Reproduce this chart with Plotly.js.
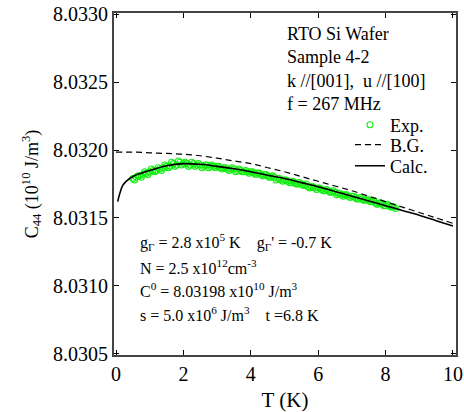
<!DOCTYPE html>
<html><head><meta charset="utf-8">
<script src="https://cdn.plot.ly/plotly-3.0.1.min.js"></script>
<style>html,body{margin:0;padding:0;background:#fff}#chart{width:464px;height:412px}</style>
</head><body><div id="chart"></div>
<script>
// Experimental points (two interleaved runs)
const expT = [0.5,0.6,0.7,0.8,0.9,1.0,1.1,1.2,1.3,1.4,1.5,1.6,1.7,1.8,1.9,2.0,2.1,2.2,2.3,2.4,2.5,2.6,2.7,2.8,2.9,3.0,3.1,3.2,3.3,3.4,3.5,3.6,3.7,3.8,3.9,4.0,4.1,4.2,4.3,4.4,4.5,4.6,4.7,4.8,4.9,5.0,5.1,5.2,5.3,5.4,5.5,5.6,5.7,5.8,5.9,6.0,6.1,6.2,6.3,6.4,6.5,6.6,6.7,6.8,6.9,7.0,7.1,7.2,7.3,7.4,7.5,7.6,7.7,7.8,7.9,8.0,8.1,8.2,8.3];
const expC = [8.03179,8.03180,8.03181,8.03182,8.03183,8.03184,8.03185,8.03185,8.03186,8.03187,8.03188,8.03188,8.03190,8.03189,8.03191,8.03190,8.03190,8.03189,8.03190,8.03189,8.03189,8.03188,8.03189,8.03188,8.03188,8.03188,8.03187,8.03187,8.03186,8.03186,8.03186,8.03185,8.03185,8.03184,8.03184,8.03184,8.03183,8.03183,8.03182,8.03182,8.03181,8.03180,8.03180,8.03179,8.03178,8.03178,8.03177,8.03176,8.03176,8.03175,8.03175,8.03174,8.03173,8.03173,8.03172,8.03172,8.03171,8.03170,8.03170,8.03169,8.03169,8.03168,8.03167,8.03167,8.03166,8.03166,8.03165,8.03164,8.03164,8.03163,8.03163,8.03162,8.03161,8.03161,8.03160,8.03159,8.03159,8.03158,8.03157];
const expT2 = [0.55,0.65,0.75,0.85,0.95,1.05,1.15,1.25,1.35,1.45,1.55,1.65,1.75,1.85,1.95,2.05,2.15,2.25,2.35,2.45,2.55,2.65,2.75,2.85,2.95,3.05,3.15,3.25,3.35,3.45,3.55,3.65,3.75,3.85,3.95,4.05,4.15,4.25,4.35,4.45,4.55,4.65,4.75,4.85,4.95,5.05,5.15,5.25,5.35,5.45,5.55,5.65,5.75,5.85,5.95,6.05,6.15,6.25,6.35,6.45,6.55,6.65,6.75,6.85,6.95,7.05,7.15,7.25,7.35,7.45,7.55,7.65,7.75,7.85,7.95,8.05,8.15,8.25];
const expC2 = [8.03178,8.03181,8.03180,8.03184,8.03182,8.03186,8.03184,8.03187,8.03185,8.03189,
               8.03187,8.03191,8.03188,8.03192,8.03189,8.03191,8.03188,8.03191,8.03188,8.03190,
               8.03187,8.03189,8.03187,8.03189,8.03187,8.03188,8.03186,8.03187,8.03185,8.03187,
               8.03184,8.03186,8.03184,8.03185,8.03183,8.03184,8.03182,8.03183,8.03181,8.03182,
               8.03180,8.03181,8.03178,8.03179,8.03177,8.03178,8.03176,8.03177,8.03175,8.03176,
               8.03174,8.03175,8.03172,8.03173,8.03171,8.03172,8.03170,8.03171,8.03169,8.03170,
               8.03167,8.03168,8.03166,8.03167,8.03165,8.03166,8.03164,8.03165,8.03163,8.03164,
               8.03162,8.03163,8.03160,8.03161,8.03159,8.03160,8.03158,8.03158];
// Background (B.G.)
const bgT = [0,0.5,1,1.5,2,2.5,3,3.5,4,4.5,5,5.5,6,6.5,7,7.5,8,8.5,9,9.5,10];
const bgC = [8.031985,8.031985,8.03198,8.031975,8.03197,8.031958,8.03194,8.03192,8.0319,8.03187,8.03184,8.031805,8.03177,8.031735,8.0317,8.03166,8.03162,8.03158,8.03154,8.0315,8.03146];
// Calculated curve
const calcT = [0.05,0.1,0.15,0.2,0.3,0.5,0.75,1.0,1.5,2.0,2.5,3.0,3.5,4,4.5,5,5.5,6,6.5,7,7.5,8,8.5,9,9.5,10];
const calcC = [8.03162,8.03167,8.03171,8.03174,8.03177,8.031805,8.03183,8.03185,8.031885,8.03190,8.031895,8.03188,8.031862,8.03184,8.031815,8.03179,8.03176,8.03173,8.031695,8.03166,8.031625,8.03159,8.031555,8.03152,8.03148,8.03144];
const xTicks = [0,2,4,6,8,10];
const yTicks = [8.0305,8.0310,8.0315,8.0320,8.0325,8.0330];

const serif = '"Liberation Serif"';
const traces = [
  {x: expT.concat(expT2), y: expC.concat(expC2), mode: 'markers', name: 'Exp.', type: 'scatter', legend: 'legend',
   marker: {symbol: 'circle-open', size: 6, color: '#11ee11', line: {width: 1.1}}},
  {x: bgT, y: bgC, mode: 'lines', name: 'B.G.', type: 'scatter', legend: 'legend2',
   line: {color: '#000', width: 1.2, dash: '6px,4px', shape: 'spline'}},
  {x: calcT, y: calcC, mode: 'lines', name: 'Calc.', type: 'scatter', legend: 'legend3',
   line: {color: '#000', width: 1.6, shape: 'spline'}}
];
const legBase = {xanchor: 'left', yanchor: 'middle', bgcolor: 'rgba(0,0,0,0)',
                 font: {family: serif, size: 18}, itemwidth: 30, borderwidth: 0};
const legX = 0.69;
const layout = {
  width: 464, height: 412,
  margin: {l: 114, r: 8, t: 13, b: 57},
  paper_bgcolor: '#fff', plot_bgcolor: '#fff',
  font: {family: serif, color: '#000', size: 17},
  showlegend: true,
  legend: Object.assign({}, legBase, {x: legX, y: 0.6725}),
  legend2: Object.assign({}, legBase, {x: legX, y: 0.614}),
  legend3: Object.assign({}, legBase, {x: legX, y: 0.5526}),
  xaxis: {range: [-0.06, 10.09], tickvals: xTicks, ticktext: xTicks.map(String),
          ticks: 'inside', ticklen: 5, tickcolor: '#000', showline: true, linecolor: '#444', linewidth: 2,
          mirror: 'ticks', showgrid: false, zeroline: false,
          title: {text: 'T (K)', font: {family: serif, size: 21}, standoff: 8},
          tickfont: {family: serif, size: 20}},
  yaxis: {range: [8.03049, 8.03301], tickvals: yTicks, ticktext: yTicks.map(v => v.toFixed(4)),
          ticks: 'inside', ticklen: 5, tickcolor: '#000', showline: true, linecolor: '#444', linewidth: 2,
          mirror: 'ticks', showgrid: false, zeroline: false,
          title: {text: 'C<sub>44</sub> (10<sup>10</sup> J/m<sup>3</sup>)', font: {family: serif, size: 18}, standoff: 10},
          tickfont: {family: serif, size: 20}},
  annotations: [
    {xref: 'paper', yref: 'paper', x: 0.5, y: 0.973, xanchor: 'left', yanchor: 'top', align: 'left', showarrow: false,
     text: 'RTO Si Wafer<br>Sample 4-2<br>k //[001],  u //[100]<br>f = 267 MHz',
     font: {family: serif, size: 18}},
    {xref: 'paper', yref: 'paper', x: 0.07, y: 0.330, xanchor: 'left', yanchor: 'middle', showarrow: false,
     text: 'g<sub>Γ</sub> = 2.8 x10<sup>5</sup> K    g<sub>Γ</sub>\' = -0.7 K', font: {family: serif, size: 16}},
    {xref: 'paper', yref: 'paper', x: 0.07, y: 0.256, xanchor: 'left', yanchor: 'middle', showarrow: false,
     text: 'N = 2.5 x10<sup>12</sup>cm<sup>-3</sup>', font: {family: serif, size: 16}},
    {xref: 'paper', yref: 'paper', x: 0.07, y: 0.189, xanchor: 'left', yanchor: 'middle', showarrow: false,
     text: 'C<sup>0</sup> = 8.03198 x10<sup>10</sup> J/m<sup>3</sup>', font: {family: serif, size: 16}},
    {xref: 'paper', yref: 'paper', x: 0.07, y: 0.119, xanchor: 'left', yanchor: 'middle', showarrow: false,
     text: 's = 5.0 x10<sup>6</sup> J/m<sup>3</sup>    t =6.8 K', font: {family: serif, size: 16}}
  ]
};
Plotly.newPlot('chart', traces, layout, {displayModeBar: false, staticPlot: true});
</script></body></html>
